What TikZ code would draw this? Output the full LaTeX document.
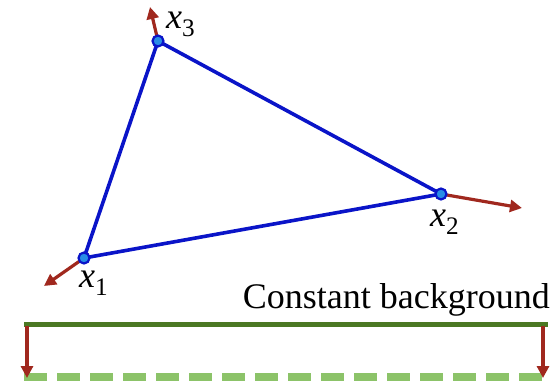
\documentclass[tikz,border=0pt]{standalone}
\usepackage{fontspec}
\setmainfont{Liberation Serif}
\usetikzlibrary{arrows.meta}
\definecolor{triblue}{RGB}{10,20,200}
\definecolor{ptfill}{RGB}{40,140,230}
\definecolor{arrred}{RGB}{160,40,30}
\definecolor{dgreen}{RGB}{75,120,35}
\definecolor{lgreen}{RGB}{140,195,105}
\begin{document}
\begin{tikzpicture}[x=1pt,y=-1pt,
  pt/.style={circle,draw=triblue,fill=ptfill,line width=2.2pt,minimum size=11pt,inner sep=0pt},
  edge/.style={triblue,line width=3.6pt},
  force/.style={arrred,line width=3.2pt,-{Triangle[length=12pt,width=12pt]}},
  lbl/.style={font=\fontsize{36}{40}\selectfont,inner sep=0pt}]
\useasboundingbox (0,0) rectangle (555,383);
\coordinate (p1) at (84,258);
\coordinate (p2) at (441,194);
\coordinate (p3) at (158,41);
\draw[edge,line join=round] (p1) -- (p2) -- (p3) -- cycle;
\coordinate (e1) at (44,286);
\coordinate (e2) at (522,208);
\coordinate (e3) at (150,7);
\draw[force] (p1) -- (e1);
\draw[force] (p2) -- (e2);
\draw[force] (p3) -- (e3);
\node[pt] (n1) at (p1) {};
\node[pt] (n2) at (p2) {};
\node[pt] (n3) at (p3) {};
\node[lbl,anchor=west] (l1) at (79,283) {\textit{x}\textsubscript{1}};
\node[lbl,anchor=west] (l2) at (430,222) {\textit{x}\textsubscript{2}};
\node[lbl,anchor=west] (l3) at (166,24) {\textit{x}\textsubscript{3}};
\node[lbl,anchor=east] (cb) at (550,300) {Constant background};
\coordinate (gl) at (24,324);
\coordinate (gr) at (548,324);
\coordinate (dl) at (24,377);
\coordinate (dr) at (548,377);
\draw[dgreen,line width=5pt] (gl) -- (gr);
\draw[lgreen,line width=7.5pt,dash pattern=on 23pt off 10pt] (dl) -- (dr);
\coordinate (a1) at (27,326);
\coordinate (b1) at (27,378);
\coordinate (a2) at (543,326);
\coordinate (b2) at (543,378);
\draw[force] (a1) -- (b1);
\draw[force] (a2) -- (b2);
\end{tikzpicture}
\end{document}
